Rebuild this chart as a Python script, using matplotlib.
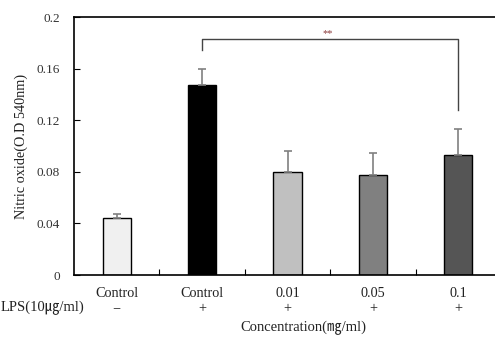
import matplotlib
matplotlib.use("Agg")
import matplotlib.pyplot as plt

categories = ["Control", "Control", "0.01", "0.05", "0.1"]
lps_signs = ["\u2212", "+", "+", "+", "+"]
values = [0.0442, 0.1473, 0.0801, 0.0775, 0.0927]
errors = [0.0033, 0.0124, 0.0160, 0.0170, 0.0205]
colors = ["#f0f0f0", "#000000", "#c0c0c0", "#808080", "#555555"]
yticks = [0, 0.04, 0.08, 0.12, 0.16, 0.2]
ytick_labels = ["0", "0.04", "0.08", "0.12", "0.16", "0.2"]

plt.rcParams['font.family'] = ['Liberation Serif', 'DejaVu Serif', 'Noto Sans CJK JP']

W, H = 495, 340
fig = plt.figure(figsize=(W / 100, H / 100), dpi=100)
left, right, top, bottom = 74, 501, 17, 275
ax = fig.add_axes([left / W, 1 - bottom / H, (right - left) / W, (bottom - top) / H])

x = list(range(len(categories)))
ax.bar(x, values, width=0.33, color=colors, edgecolor="black", linewidth=1.0, zorder=2)
ax.errorbar(x, values, yerr=[[0] * len(errors), errors], fmt="none", ecolor="#808080",
            elinewidth=1.2, capsize=3, capthick=1.2, zorder=3)

ax.set_xlim(-0.5, 4.5)
ax.set_ylim(0, 0.2)
ax.set_yticks(yticks)
ax.set_yticklabels(ytick_labels, fontsize=9.5, color="#333333")
ax.tick_params(axis="y", direction="in", length=4, pad=10)
ax.set_xticks([0.5, 1.5, 2.5, 3.5])
ax.set_xticklabels([])
ax.tick_params(axis="x", direction="in", length=4)
for s in ["top", "left", "bottom"]:
    ax.spines[s].set_linewidth(1.2)
ax.spines["right"].set_visible(False)

# category labels
for xi, cat, sg in zip(x, categories, lps_signs):
    ax.text(xi, -0.014, cat, ha="center", va="center", fontsize=10.3, color="#222222",
            transform=ax.transData, clip_on=False)
    ax.text(xi, -0.0262, sg, ha="center", va="center", fontsize=10.3, color="#222222",
            transform=ax.transData, clip_on=False)
fig.text(1 / W, 1 - 308 / H, "LPS(10\u338d/ml)", ha="left", va="center", fontsize=10.5, color="#222222")
fig.text(303 / W, 1 - 328 / H, "Concentration(\u338e/ml)", ha="center", va="center", fontsize=10.5, color="#222222")
ax.set_ylabel("Nitric oxide(O.D 540nm)", fontsize=10.3, color="#222222", labelpad=6)

# significance bracket
ax.plot([1, 1, 4, 4], [0.1745, 0.183, 0.183, 0.128], color="#444444", linewidth=1.0, clip_on=False)
ax.text(2.47, 0.1875, "**", ha="center", va="center", fontsize=7.5, color="#8b3a3a")

fig.savefig("out.png", dpi=100)
